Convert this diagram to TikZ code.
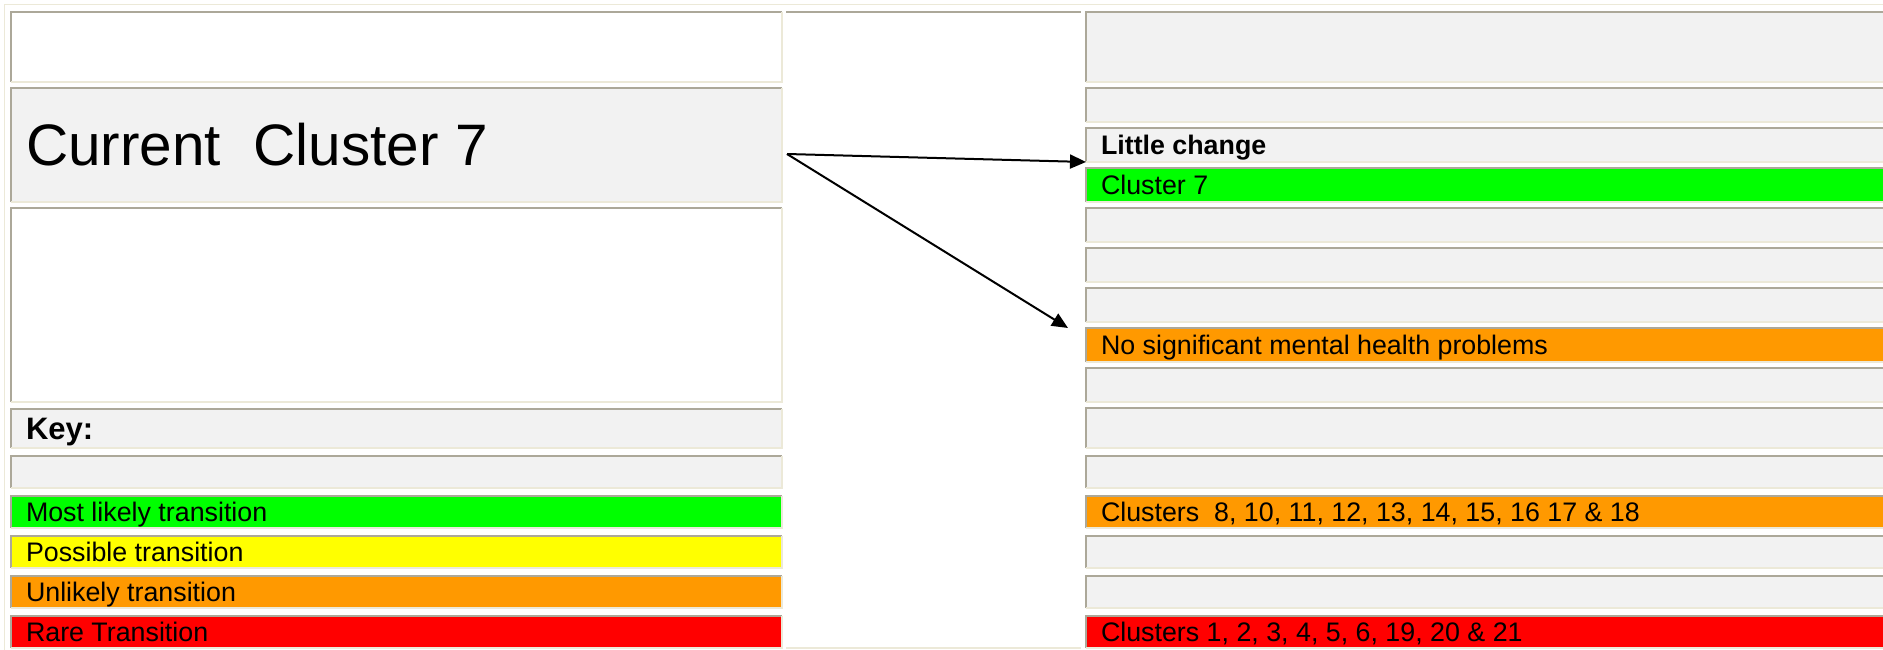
\documentclass[tikz,border=0pt]{standalone}
\usepackage{fontspec}
\setmainfont{Liberation Sans}
\usetikzlibrary{arrows.meta}
\definecolor{bdark}{HTML}{ACA899}
\definecolor{blight}{HTML}{ECE9D8}
\definecolor{cgray}{HTML}{F2F2F2}
\definecolor{cgreen}{HTML}{00FF00}
\definecolor{cyellow}{HTML}{FFFF00}
\definecolor{corange}{HTML}{FF9900}
\definecolor{cred}{HTML}{FF0000}
\newcommand\fnorm{\fontsize{26.8}{30}\selectfont}
\newcommand\fkey{\fontsize{31}{36}\selectfont\bfseries}
\newcommand\fbig{\fontsize{58.5}{64}\selectfont}
\tikzset{
  cellbox/.style={draw=none, inner sep=0pt, outer sep=0pt, anchor=north west, rectangle},
  bdk/.style={draw=bdark, line width=1.8pt},
  blt/.style={draw=blight, line width=1.8pt},
  txt/.style={inner sep=0pt, outer sep=0pt, anchor=base west, font=\fnorm},
  arr/.style={line width=2pt, -{Triangle[length=16pt,width=14pt]}}
}
\newcommand\tcell[6]{%
  \pgfmathsetmacro\cw{#4-#2}\pgfmathsetmacro\ch{#5-#3}%
  \node[cellbox, fill=#6, minimum width=\cw pt, minimum height=\ch pt] (#1) at (#2,#3) {};
  \draw[bdk] (#1.south west) -- (#1.north west) -- (#1.north east);
  \draw[blt] (#1.north east) -- (#1.south east) -- (#1.south west);
}
\begin{document}
\begin{tikzpicture}[x=1pt,y=-1pt]
\useasboundingbox (0,0) rectangle (1883,650);
\fill[white] (0,0) rectangle (1883,650);
% outer table border
\draw[blt] (4.5,650) -- (4.5,4.5) -- (1883,4.5);
% left column
\tcell{la}{11}{12}{782}{82}{white}
\tcell{lb}{11}{88}{782}{202}{cgray}
\tcell{lc}{11}{208}{782}{402}{white}
\tcell{lkey}{11}{409}{782}{448}{cgray}
\tcell{le}{11}{456}{782}{488}{cgray}
\tcell{lg}{11}{496}{782}{528}{cgreen}
\tcell{ly}{11}{536}{782}{568}{cyellow}
\tcell{lo}{11}{576}{782}{608}{corange}
\tcell{lr}{11}{616}{782}{648}{cred}
% middle column
\node[cellbox, minimum width=295pt, minimum height=636pt] (mid) at (786,12) {};
\draw[bdk] (mid.north west) -- (mid.north east);
\draw[blt] (mid.south west) -- (mid.south east);
% right column
\tcell{r1}{1086}{12}{1886}{82}{cgray}
\tcell{r2}{1086}{88}{1886}{122}{cgray}
\tcell{r3}{1086}{128}{1886}{162}{cgray}
\tcell{r4}{1086}{168}{1886}{202}{cgreen}
\tcell{r5}{1086}{208}{1886}{242}{cgray}
\tcell{r6}{1086}{248}{1886}{282}{cgray}
\tcell{r7}{1086}{288}{1886}{322}{cgray}
\tcell{r8}{1086}{328}{1886}{362}{corange}
\tcell{r9}{1086}{368}{1886}{402}{cgray}
\tcell{r10}{1086}{408}{1886}{448}{cgray}
\tcell{r11}{1086}{456}{1886}{488}{cgray}
\tcell{r12}{1086}{496}{1886}{528}{corange}
\tcell{r13}{1086}{536}{1886}{568}{cgray}
\tcell{r14}{1086}{576}{1886}{608}{cgray}
\tcell{r15}{1086}{616}{1886}{648}{cred}
% texts
\node[txt, font=\fbig] (tcur) at ([xshift=15pt,yshift=-20.5pt]lb.west) {Current\ \ Cluster 7};
\node[txt, font=\fkey] (tkey) at ([xshift=15pt,yshift=-11pt]lkey.west) {Key:};
\node[txt] (tg) at ([xshift=15pt,yshift=-9.5pt]lg.west) {Most likely transition};
\node[txt] (ty) at ([xshift=15pt,yshift=-9.5pt]ly.west) {Possible transition};
\node[txt] (to) at ([xshift=15pt,yshift=-9.5pt]lo.west) {Unlikely transition};
\node[txt] (tr) at ([xshift=15pt,yshift=-9.5pt]lr.west) {Rare Transition};
\node[txt, font=\fnorm\bfseries] (tlc) at ([xshift=15pt,yshift=-9.5pt]r3.west) {Little change};
\node[txt] (tc7) at ([xshift=15pt,yshift=-9.5pt]r4.west) {Cluster 7};
\node[txt] (tns) at ([xshift=15pt,yshift=-9.5pt]r8.west) {No significant mental health problems};
\node[txt] (tc8) at ([xshift=15pt,yshift=-9.5pt]r12.west) {Clusters\ \ 8, 10, 11, 12, 13, 14, 15, 16 17 \& 18};
\node[txt] (tc1) at ([xshift=15pt,yshift=-9.5pt]r15.west) {Clusters 1, 2, 3, 4, 5, 6, 19, 20 \& 21};
% arrows
\coordinate (src) at (787,154);
\coordinate (dst2) at (1068,328);
\draw[arr] (src) -- (r3.south west);
\draw[arr] (src) -- (dst2);
\end{tikzpicture}
\end{document}
